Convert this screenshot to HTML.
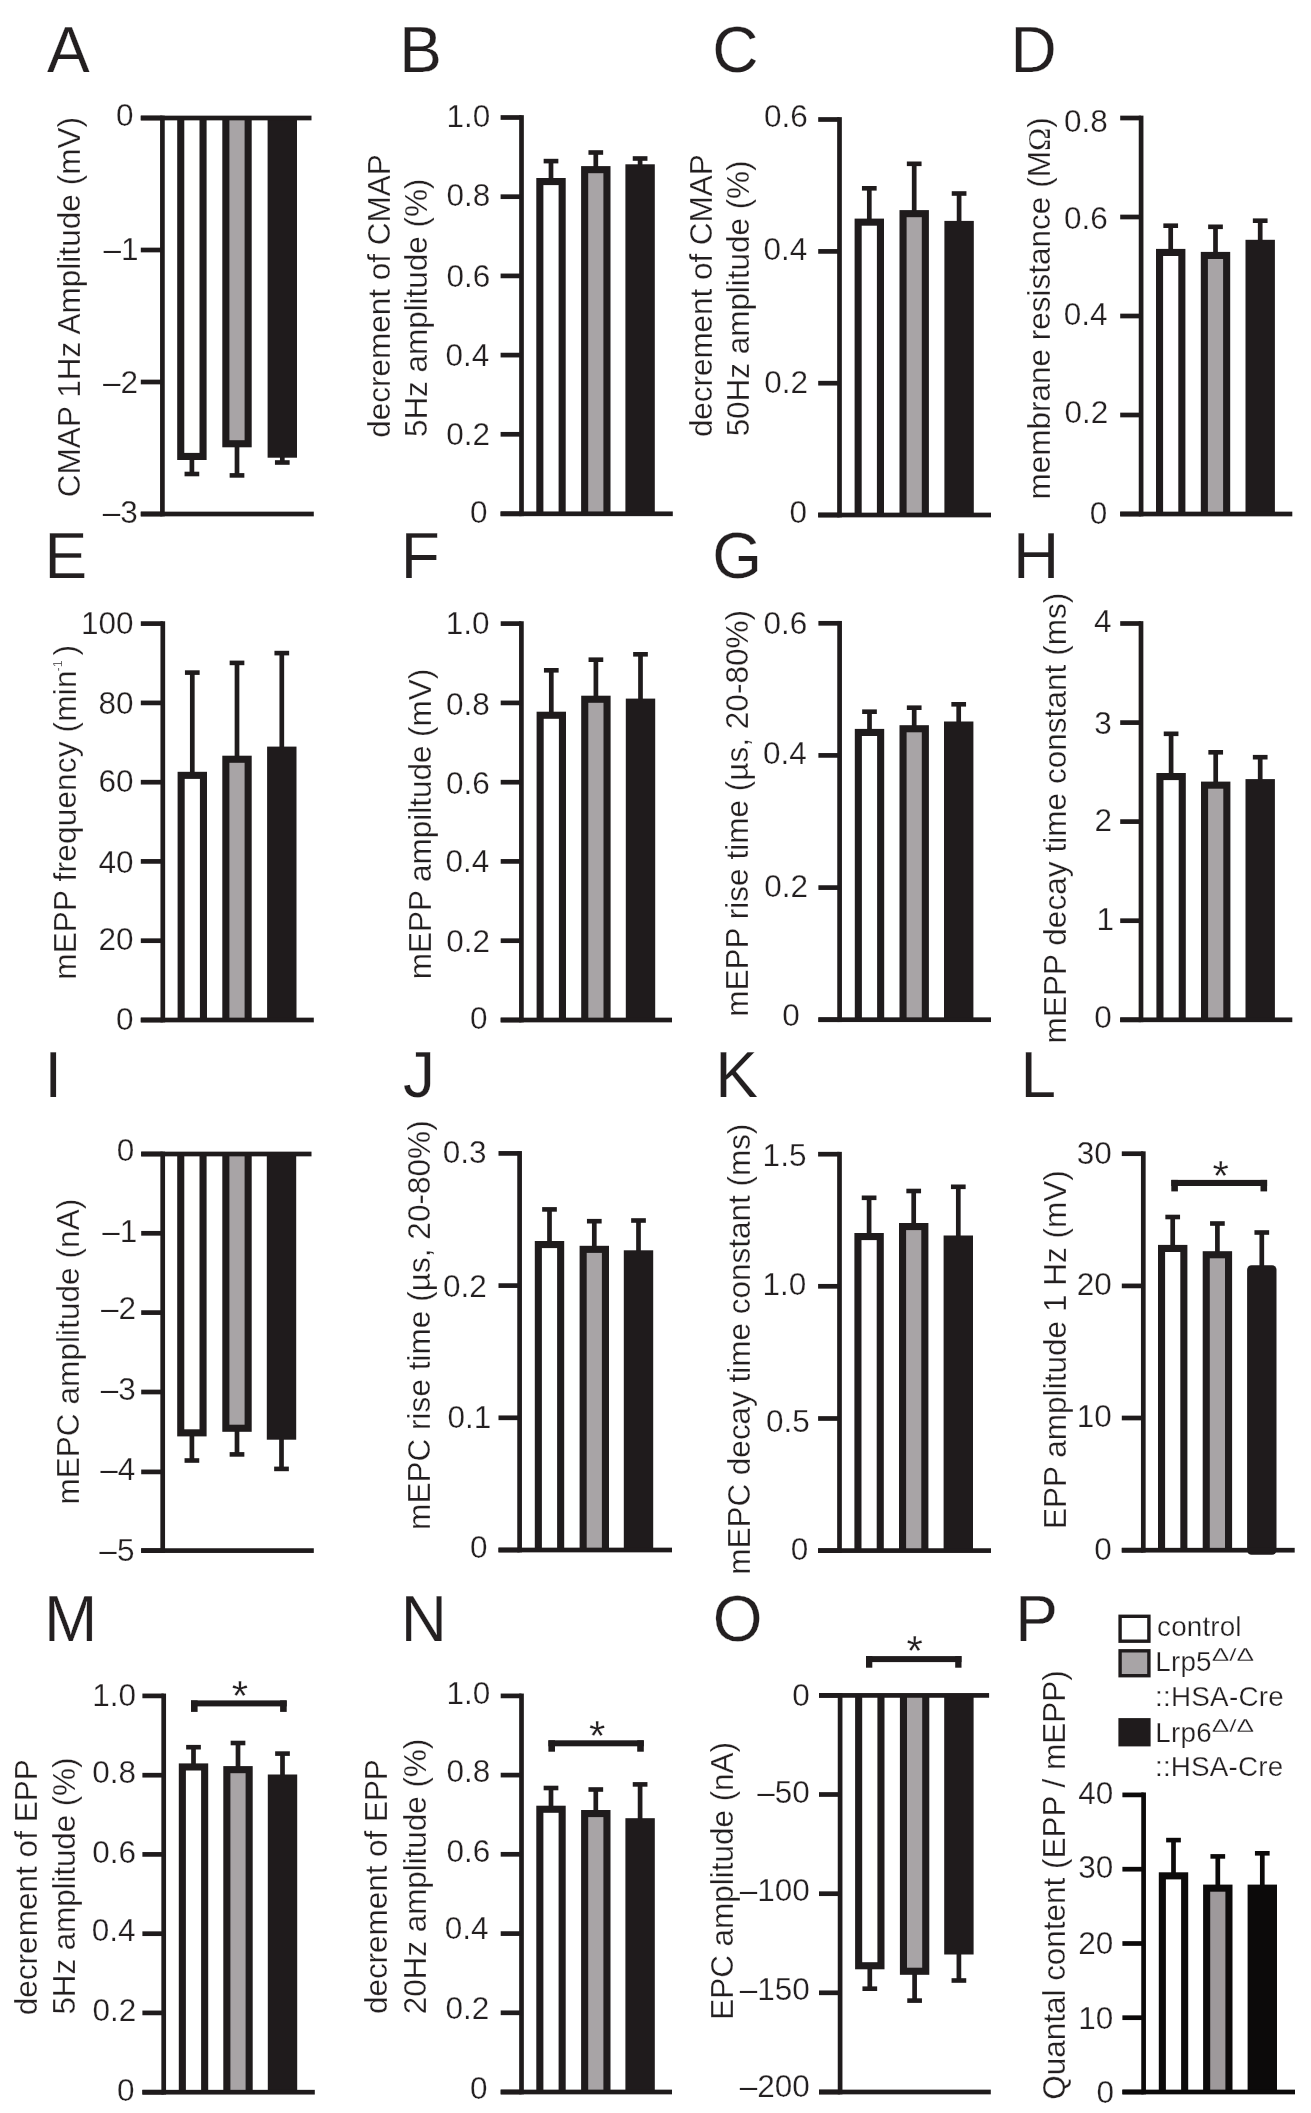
<!DOCTYPE html>
<html><head><meta charset="utf-8"><title>Figure</title>
<style>
html,body{margin:0;padding:0;background:#fff;}
svg{display:block;will-change:transform;}
text{font-family:"Liberation Sans",sans-serif;fill:#231f20;stroke:#fff;stroke-width:0.25px;}
</style></head><body>
<svg width="1311" height="2113" viewBox="0 0 1311 2113">
<rect width="1311" height="2113" fill="#ffffff"/>
<rect x="189.55" y="459.00" width="4.70" height="15.00" fill="#1f1b1c"/>
<rect x="184.55" y="471.70" width="14.70" height="4.60" fill="#1f1b1c"/>
<rect x="177.20" y="118.00" width="29.40" height="342.00" fill="#1f1b1c"/>
<rect x="184.30" y="118.00" width="15.20" height="334.90" fill="#ffffff"/>
<rect x="234.65" y="446.30" width="4.70" height="29.10" fill="#1f1b1c"/>
<rect x="229.65" y="473.10" width="14.70" height="4.60" fill="#1f1b1c"/>
<rect x="222.30" y="118.00" width="29.40" height="329.30" fill="#1f1b1c"/>
<rect x="229.40" y="118.00" width="15.20" height="322.20" fill="#a8a4a6"/>
<rect x="279.95" y="456.70" width="4.70" height="5.80" fill="#1f1b1c"/>
<rect x="274.95" y="460.20" width="14.70" height="4.60" fill="#1f1b1c"/>
<rect x="267.60" y="118.00" width="29.40" height="339.70" fill="#1f1b1c"/>
<rect x="160.05" y="115.65" width="4.70" height="400.70" fill="#1f1b1c"/>
<rect x="140.80" y="115.65" width="21.60" height="4.70" fill="#1f1b1c"/>
<text x="133.53" y="125.84" font-size="31.5" text-anchor="end">0</text>
<rect x="140.80" y="247.65" width="21.60" height="4.70" fill="#1f1b1c"/>
<text x="138.61" y="260.15" font-size="31.5" text-anchor="end">–1</text>
<rect x="140.80" y="379.65" width="21.60" height="4.70" fill="#1f1b1c"/>
<text x="138.08" y="393.05" font-size="31.5" text-anchor="end">–2</text>
<rect x="140.80" y="511.65" width="21.60" height="4.70" fill="#1f1b1c"/>
<text x="137.88" y="522.94" font-size="31.5" text-anchor="end">–3</text>
<rect x="140.80" y="511.65" width="173.00" height="4.70" fill="#1f1b1c"/>
<rect x="140.80" y="115.65" width="170.70" height="4.70" fill="#1f1b1c"/>
<text x="47.08" y="71.80" font-size="64" text-anchor="start">A</text>
<text x="79.80" y="497.20" font-size="31.5" text-anchor="start" transform="rotate(-90 79.80 497.20)" textLength="380.25" lengthAdjust="spacing">CMAP 1Hz Amplitude (mV)</text>
<rect x="548.65" y="161.10" width="4.70" height="17.90" fill="#1f1b1c"/>
<rect x="543.65" y="158.80" width="14.70" height="4.60" fill="#1f1b1c"/>
<rect x="536.30" y="178.00" width="29.40" height="335.80" fill="#1f1b1c"/>
<rect x="543.40" y="185.10" width="15.20" height="328.70" fill="#ffffff"/>
<rect x="593.45" y="152.50" width="4.70" height="14.60" fill="#1f1b1c"/>
<rect x="588.45" y="150.20" width="14.70" height="4.60" fill="#1f1b1c"/>
<rect x="581.10" y="166.10" width="29.40" height="347.70" fill="#1f1b1c"/>
<rect x="588.20" y="173.20" width="15.20" height="340.60" fill="#a8a4a6"/>
<rect x="637.75" y="158.50" width="4.70" height="6.80" fill="#1f1b1c"/>
<rect x="632.75" y="156.20" width="14.70" height="4.60" fill="#1f1b1c"/>
<rect x="625.40" y="164.30" width="29.40" height="349.50" fill="#1f1b1c"/>
<rect x="519.15" y="115.15" width="4.70" height="401.00" fill="#1f1b1c"/>
<rect x="500.60" y="115.15" width="20.90" height="4.70" fill="#1f1b1c"/>
<text x="490.23" y="126.64" font-size="31.5" text-anchor="end">1.0</text>
<rect x="500.60" y="194.35" width="20.90" height="4.70" fill="#1f1b1c"/>
<text x="490.37" y="206.34" font-size="31.5" text-anchor="end">0.8</text>
<rect x="500.60" y="273.55" width="20.90" height="4.70" fill="#1f1b1c"/>
<text x="490.38" y="287.44" font-size="31.5" text-anchor="end">0.6</text>
<rect x="500.60" y="352.75" width="20.90" height="4.70" fill="#1f1b1c"/>
<text x="489.32" y="365.64" font-size="31.5" text-anchor="end">0.4</text>
<rect x="500.60" y="431.95" width="20.90" height="4.70" fill="#1f1b1c"/>
<text x="489.98" y="444.74" font-size="31.5" text-anchor="end">0.2</text>
<rect x="500.60" y="511.45" width="20.90" height="4.70" fill="#1f1b1c"/>
<text x="487.63" y="523.14" font-size="31.5" text-anchor="end">0</text>
<rect x="500.60" y="511.45" width="172.20" height="4.70" fill="#1f1b1c"/>
<text x="399.35" y="71.80" font-size="64" text-anchor="start">B</text>
<text x="390.20" y="437.72" font-size="31.5" text-anchor="start" transform="rotate(-90 390.20 437.72)" textLength="283.38" lengthAdjust="spacing">decrement of CMAP</text>
<text x="427.10" y="437.06" font-size="31.5" text-anchor="start" transform="rotate(-90 427.10 437.06)" textLength="258.41" lengthAdjust="spacing">5Hz amplitude (%)</text>
<rect x="866.95" y="188.30" width="4.70" height="31.30" fill="#1f1b1c"/>
<rect x="861.95" y="186.00" width="14.70" height="4.60" fill="#1f1b1c"/>
<rect x="854.60" y="218.60" width="29.40" height="296.40" fill="#1f1b1c"/>
<rect x="861.70" y="225.70" width="15.20" height="289.30" fill="#ffffff"/>
<rect x="911.85" y="163.80" width="4.70" height="47.30" fill="#1f1b1c"/>
<rect x="906.85" y="161.50" width="14.70" height="4.60" fill="#1f1b1c"/>
<rect x="899.50" y="210.10" width="29.40" height="304.90" fill="#1f1b1c"/>
<rect x="906.60" y="217.20" width="15.20" height="297.80" fill="#a8a4a6"/>
<rect x="956.75" y="193.50" width="4.70" height="28.40" fill="#1f1b1c"/>
<rect x="951.75" y="191.20" width="14.70" height="4.60" fill="#1f1b1c"/>
<rect x="944.40" y="220.90" width="29.40" height="294.10" fill="#1f1b1c"/>
<rect x="837.15" y="117.15" width="4.70" height="400.20" fill="#1f1b1c"/>
<rect x="818.20" y="117.15" width="21.30" height="4.70" fill="#1f1b1c"/>
<text x="807.78" y="126.64" font-size="31.5" text-anchor="end">0.6</text>
<rect x="818.20" y="249.05" width="21.30" height="4.70" fill="#1f1b1c"/>
<text x="807.32" y="260.14" font-size="31.5" text-anchor="end">0.4</text>
<rect x="818.20" y="380.85" width="21.30" height="4.70" fill="#1f1b1c"/>
<text x="807.98" y="392.84" font-size="31.5" text-anchor="end">0.2</text>
<rect x="818.20" y="512.65" width="21.30" height="4.70" fill="#1f1b1c"/>
<text x="807.03" y="522.54" font-size="31.5" text-anchor="end">0</text>
<rect x="818.20" y="512.65" width="172.80" height="4.70" fill="#1f1b1c"/>
<text x="712.25" y="71.80" font-size="64" text-anchor="start">C</text>
<text x="711.80" y="437.12" font-size="31.5" text-anchor="start" transform="rotate(-90 711.80 437.12)" textLength="282.78" lengthAdjust="spacing">decrement of CMAP</text>
<text x="748.70" y="436.36" font-size="31.5" text-anchor="start" transform="rotate(-90 748.70 436.36)" textLength="275.91" lengthAdjust="spacing">50Hz amplitude (%)</text>
<rect x="1168.35" y="225.70" width="4.70" height="24.20" fill="#1f1b1c"/>
<rect x="1163.35" y="223.40" width="14.70" height="4.60" fill="#1f1b1c"/>
<rect x="1156.00" y="248.90" width="29.40" height="265.10" fill="#1f1b1c"/>
<rect x="1163.10" y="256.00" width="15.20" height="258.00" fill="#ffffff"/>
<rect x="1213.15" y="226.80" width="4.70" height="26.10" fill="#1f1b1c"/>
<rect x="1208.15" y="224.50" width="14.70" height="4.60" fill="#1f1b1c"/>
<rect x="1200.80" y="251.90" width="29.40" height="262.10" fill="#1f1b1c"/>
<rect x="1207.90" y="259.00" width="15.20" height="255.00" fill="#a8a4a6"/>
<rect x="1257.85" y="220.70" width="4.70" height="20.10" fill="#1f1b1c"/>
<rect x="1252.85" y="218.40" width="14.70" height="4.60" fill="#1f1b1c"/>
<rect x="1245.50" y="239.80" width="29.40" height="274.20" fill="#1f1b1c"/>
<rect x="1138.75" y="115.65" width="4.70" height="400.70" fill="#1f1b1c"/>
<rect x="1120.20" y="115.65" width="20.90" height="4.70" fill="#1f1b1c"/>
<text x="1107.87" y="132.04" font-size="31.5" text-anchor="end">0.8</text>
<rect x="1120.20" y="214.65" width="20.90" height="4.70" fill="#1f1b1c"/>
<text x="1107.88" y="229.24" font-size="31.5" text-anchor="end">0.6</text>
<rect x="1120.20" y="313.65" width="20.90" height="4.70" fill="#1f1b1c"/>
<text x="1107.52" y="324.74" font-size="31.5" text-anchor="end">0.4</text>
<rect x="1120.20" y="412.65" width="20.90" height="4.70" fill="#1f1b1c"/>
<text x="1108.18" y="423.34" font-size="31.5" text-anchor="end">0.2</text>
<rect x="1120.20" y="511.65" width="20.90" height="4.70" fill="#1f1b1c"/>
<text x="1107.23" y="524.44" font-size="31.5" text-anchor="end">0</text>
<rect x="1120.20" y="511.65" width="172.10" height="4.70" fill="#1f1b1c"/>
<text x="1010.55" y="71.80" font-size="64" text-anchor="start">D</text>
<text x="1049.60" y="499.49" font-size="31.5" text-anchor="start" transform="rotate(-90 1049.60 499.49)">membrane resistance (M<tspan font-family="Liberation Serif, serif">Ω</tspan>)</text>
<rect x="189.95" y="672.60" width="4.70" height="100.20" fill="#1f1b1c"/>
<rect x="184.95" y="670.30" width="14.70" height="4.60" fill="#1f1b1c"/>
<rect x="177.60" y="771.80" width="29.40" height="248.20" fill="#1f1b1c"/>
<rect x="184.70" y="778.90" width="15.20" height="241.10" fill="#ffffff"/>
<rect x="234.65" y="662.90" width="4.70" height="93.80" fill="#1f1b1c"/>
<rect x="229.65" y="660.60" width="14.70" height="4.60" fill="#1f1b1c"/>
<rect x="222.30" y="755.70" width="29.40" height="264.30" fill="#1f1b1c"/>
<rect x="229.40" y="762.80" width="15.20" height="257.20" fill="#a8a4a6"/>
<rect x="279.45" y="653.10" width="4.70" height="94.50" fill="#1f1b1c"/>
<rect x="274.45" y="650.80" width="14.70" height="4.60" fill="#1f1b1c"/>
<rect x="267.10" y="746.60" width="29.40" height="273.40" fill="#1f1b1c"/>
<rect x="160.45" y="621.25" width="4.70" height="401.10" fill="#1f1b1c"/>
<rect x="140.80" y="621.25" width="22.00" height="4.70" fill="#1f1b1c"/>
<text x="133.63" y="633.54" font-size="31.5" text-anchor="end">100</text>
<rect x="140.80" y="700.55" width="22.00" height="4.70" fill="#1f1b1c"/>
<text x="133.63" y="713.94" font-size="31.5" text-anchor="end">80</text>
<rect x="140.80" y="779.85" width="22.00" height="4.70" fill="#1f1b1c"/>
<text x="133.63" y="792.44" font-size="31.5" text-anchor="end">60</text>
<rect x="140.80" y="859.05" width="22.00" height="4.70" fill="#1f1b1c"/>
<text x="133.63" y="872.54" font-size="31.5" text-anchor="end">40</text>
<rect x="140.80" y="938.35" width="22.00" height="4.70" fill="#1f1b1c"/>
<text x="133.63" y="949.74" font-size="31.5" text-anchor="end">20</text>
<rect x="140.80" y="1017.65" width="22.00" height="4.70" fill="#1f1b1c"/>
<text x="133.63" y="1030.04" font-size="31.5" text-anchor="end">0</text>
<rect x="140.80" y="1017.65" width="173.00" height="4.70" fill="#1f1b1c"/>
<text x="44.45" y="578.00" font-size="64" text-anchor="start">E</text>
<text x="75.70" y="979.79" font-size="31.5" text-anchor="start" transform="rotate(-90 75.70 979.79)" textLength="309.24" lengthAdjust="spacing">mEPP frequency (min</text>
<text x="61.80" y="671.46" font-size="12.5" text-anchor="start" transform="rotate(-90 61.80 671.46)">-1</text>
<text x="75.70" y="655.58" font-size="31.5" text-anchor="start" transform="rotate(-90 75.70 655.58)">)</text>
<rect x="548.95" y="670.30" width="4.70" height="42.40" fill="#1f1b1c"/>
<rect x="543.95" y="668.00" width="14.70" height="4.60" fill="#1f1b1c"/>
<rect x="536.60" y="711.70" width="29.40" height="308.30" fill="#1f1b1c"/>
<rect x="543.70" y="718.80" width="15.20" height="301.20" fill="#ffffff"/>
<rect x="593.55" y="659.70" width="4.70" height="37.00" fill="#1f1b1c"/>
<rect x="588.55" y="657.40" width="14.70" height="4.60" fill="#1f1b1c"/>
<rect x="581.20" y="695.70" width="29.40" height="324.30" fill="#1f1b1c"/>
<rect x="588.30" y="702.80" width="15.20" height="317.20" fill="#a8a4a6"/>
<rect x="638.15" y="654.30" width="4.70" height="45.30" fill="#1f1b1c"/>
<rect x="633.15" y="652.00" width="14.70" height="4.60" fill="#1f1b1c"/>
<rect x="625.80" y="698.60" width="29.40" height="321.40" fill="#1f1b1c"/>
<rect x="519.05" y="621.25" width="4.70" height="401.10" fill="#1f1b1c"/>
<rect x="500.70" y="621.25" width="20.70" height="4.70" fill="#1f1b1c"/>
<text x="489.63" y="633.54" font-size="31.5" text-anchor="end">1.0</text>
<rect x="500.70" y="700.55" width="20.70" height="4.70" fill="#1f1b1c"/>
<text x="489.77" y="714.64" font-size="31.5" text-anchor="end">0.8</text>
<rect x="500.70" y="779.85" width="20.70" height="4.70" fill="#1f1b1c"/>
<text x="489.78" y="794.34" font-size="31.5" text-anchor="end">0.6</text>
<rect x="500.70" y="859.05" width="20.70" height="4.70" fill="#1f1b1c"/>
<text x="489.32" y="871.94" font-size="31.5" text-anchor="end">0.4</text>
<rect x="500.70" y="938.35" width="20.70" height="4.70" fill="#1f1b1c"/>
<text x="489.98" y="952.34" font-size="31.5" text-anchor="end">0.2</text>
<rect x="500.70" y="1017.65" width="20.70" height="4.70" fill="#1f1b1c"/>
<text x="487.63" y="1028.84" font-size="31.5" text-anchor="end">0</text>
<rect x="500.70" y="1017.65" width="171.30" height="4.70" fill="#1f1b1c"/>
<text x="400.75" y="578.00" font-size="64" text-anchor="start">F</text>
<text x="430.90" y="979.19" font-size="31.5" text-anchor="start" transform="rotate(-90 430.90 979.19)" textLength="310.45" lengthAdjust="spacing">mEPP ampiltude (mV)</text>
<rect x="867.15" y="711.70" width="4.70" height="18.20" fill="#1f1b1c"/>
<rect x="862.15" y="709.40" width="14.70" height="4.60" fill="#1f1b1c"/>
<rect x="854.80" y="728.90" width="29.40" height="290.80" fill="#1f1b1c"/>
<rect x="861.90" y="736.00" width="15.20" height="283.70" fill="#ffffff"/>
<rect x="911.85" y="707.70" width="4.70" height="18.50" fill="#1f1b1c"/>
<rect x="906.85" y="705.40" width="14.70" height="4.60" fill="#1f1b1c"/>
<rect x="899.50" y="725.20" width="29.40" height="294.50" fill="#1f1b1c"/>
<rect x="906.60" y="732.30" width="15.20" height="287.40" fill="#a8a4a6"/>
<rect x="956.35" y="704.30" width="4.70" height="18.20" fill="#1f1b1c"/>
<rect x="951.35" y="702.00" width="14.70" height="4.60" fill="#1f1b1c"/>
<rect x="944.00" y="721.50" width="29.40" height="298.20" fill="#1f1b1c"/>
<rect x="837.25" y="620.95" width="4.70" height="401.10" fill="#1f1b1c"/>
<rect x="818.40" y="620.95" width="21.20" height="4.70" fill="#1f1b1c"/>
<text x="807.18" y="633.74" font-size="31.5" text-anchor="end">0.6</text>
<rect x="818.40" y="753.05" width="21.20" height="4.70" fill="#1f1b1c"/>
<text x="806.72" y="764.04" font-size="31.5" text-anchor="end">0.4</text>
<rect x="818.40" y="885.25" width="21.20" height="4.70" fill="#1f1b1c"/>
<text x="807.98" y="897.14" font-size="31.5" text-anchor="end">0.2</text>
<rect x="818.40" y="1017.35" width="21.20" height="4.70" fill="#1f1b1c"/>
<text x="799.83" y="1025.54" font-size="31.5" text-anchor="end">0</text>
<rect x="818.40" y="1017.35" width="172.60" height="4.70" fill="#1f1b1c"/>
<text x="712.28" y="578.00" font-size="64" text-anchor="start">G</text>
<text x="748.40" y="1016.79" font-size="31.5" text-anchor="start" transform="rotate(-90 748.40 1016.79)" textLength="406.85" lengthAdjust="spacing">mEPP rise time (µs, 20-80%)</text>
<rect x="1168.75" y="733.80" width="4.70" height="40.20" fill="#1f1b1c"/>
<rect x="1163.75" y="731.50" width="14.70" height="4.60" fill="#1f1b1c"/>
<rect x="1156.40" y="773.00" width="29.40" height="246.80" fill="#1f1b1c"/>
<rect x="1163.50" y="780.10" width="15.20" height="239.70" fill="#ffffff"/>
<rect x="1213.35" y="752.30" width="4.70" height="30.30" fill="#1f1b1c"/>
<rect x="1208.35" y="750.00" width="14.70" height="4.60" fill="#1f1b1c"/>
<rect x="1201.00" y="781.60" width="29.40" height="238.20" fill="#1f1b1c"/>
<rect x="1208.10" y="788.70" width="15.20" height="231.10" fill="#a8a4a6"/>
<rect x="1257.85" y="757.20" width="4.70" height="22.90" fill="#1f1b1c"/>
<rect x="1252.85" y="754.90" width="14.70" height="4.60" fill="#1f1b1c"/>
<rect x="1245.50" y="779.10" width="29.40" height="240.70" fill="#1f1b1c"/>
<rect x="1138.65" y="621.15" width="4.70" height="401.00" fill="#1f1b1c"/>
<rect x="1120.20" y="621.15" width="20.80" height="4.70" fill="#1f1b1c"/>
<text x="1111.42" y="632.45" font-size="31.5" text-anchor="end">4</text>
<rect x="1120.20" y="720.25" width="20.80" height="4.70" fill="#1f1b1c"/>
<text x="1111.88" y="733.94" font-size="31.5" text-anchor="end">3</text>
<rect x="1120.20" y="819.25" width="20.80" height="4.70" fill="#1f1b1c"/>
<text x="1112.08" y="831.35" font-size="31.5" text-anchor="end">2</text>
<rect x="1120.20" y="918.35" width="20.80" height="4.70" fill="#1f1b1c"/>
<text x="1114.11" y="929.95" font-size="31.5" text-anchor="end">1</text>
<rect x="1120.20" y="1017.45" width="20.80" height="4.70" fill="#1f1b1c"/>
<text x="1111.73" y="1028.14" font-size="31.5" text-anchor="end">0</text>
<rect x="1120.20" y="1017.45" width="172.10" height="4.70" fill="#1f1b1c"/>
<text x="1013.05" y="578.00" font-size="64" text-anchor="start">H</text>
<text x="1066.40" y="1043.39" font-size="31.5" text-anchor="start" transform="rotate(-90 1066.40 1043.39)" textLength="450.65" lengthAdjust="spacing">mEPP decay time constant (ms)</text>
<rect x="189.55" y="1435.40" width="4.70" height="25.10" fill="#1f1b1c"/>
<rect x="184.55" y="1458.20" width="14.70" height="4.60" fill="#1f1b1c"/>
<rect x="177.20" y="1154.00" width="29.40" height="282.40" fill="#1f1b1c"/>
<rect x="184.30" y="1154.00" width="15.20" height="275.30" fill="#ffffff"/>
<rect x="234.65" y="1430.80" width="4.70" height="23.60" fill="#1f1b1c"/>
<rect x="229.65" y="1452.10" width="14.70" height="4.60" fill="#1f1b1c"/>
<rect x="222.30" y="1154.00" width="29.40" height="277.80" fill="#1f1b1c"/>
<rect x="229.40" y="1154.00" width="15.20" height="270.70" fill="#a8a4a6"/>
<rect x="279.15" y="1438.70" width="4.70" height="30.20" fill="#1f1b1c"/>
<rect x="274.15" y="1466.60" width="14.70" height="4.60" fill="#1f1b1c"/>
<rect x="266.80" y="1154.00" width="29.40" height="285.70" fill="#1f1b1c"/>
<rect x="160.35" y="1151.65" width="4.70" height="401.30" fill="#1f1b1c"/>
<rect x="141.20" y="1151.65" width="21.50" height="4.70" fill="#1f1b1c"/>
<text x="134.33" y="1160.94" font-size="31.5" text-anchor="end">0</text>
<rect x="141.20" y="1230.95" width="21.50" height="4.70" fill="#1f1b1c"/>
<text x="137.31" y="1242.35" font-size="31.5" text-anchor="end">–1</text>
<rect x="141.20" y="1310.25" width="21.50" height="4.70" fill="#1f1b1c"/>
<text x="135.98" y="1319.45" font-size="31.5" text-anchor="end">–2</text>
<rect x="141.20" y="1389.65" width="21.50" height="4.70" fill="#1f1b1c"/>
<text x="135.78" y="1399.94" font-size="31.5" text-anchor="end">–3</text>
<rect x="141.20" y="1469.55" width="21.50" height="4.70" fill="#1f1b1c"/>
<text x="135.32" y="1480.05" font-size="31.5" text-anchor="end">–4</text>
<rect x="141.20" y="1548.25" width="21.50" height="4.70" fill="#1f1b1c"/>
<text x="134.42" y="1560.74" font-size="31.5" text-anchor="end">–5</text>
<rect x="141.20" y="1548.25" width="172.60" height="4.70" fill="#1f1b1c"/>
<rect x="141.20" y="1151.65" width="170.30" height="4.70" fill="#1f1b1c"/>
<text x="44.29" y="1097.00" font-size="64" text-anchor="start">I</text>
<text x="78.60" y="1504.59" font-size="31.5" text-anchor="start" transform="rotate(-90 78.60 1504.59)" textLength="305.85" lengthAdjust="spacing">mEPC amplitude (nA)</text>
<rect x="547.15" y="1209.40" width="4.70" height="32.60" fill="#1f1b1c"/>
<rect x="542.15" y="1207.10" width="14.70" height="4.60" fill="#1f1b1c"/>
<rect x="534.80" y="1241.00" width="29.40" height="309.00" fill="#1f1b1c"/>
<rect x="541.90" y="1248.10" width="15.20" height="301.90" fill="#ffffff"/>
<rect x="591.95" y="1221.20" width="4.70" height="25.60" fill="#1f1b1c"/>
<rect x="586.95" y="1218.90" width="14.70" height="4.60" fill="#1f1b1c"/>
<rect x="579.60" y="1245.80" width="29.40" height="304.20" fill="#1f1b1c"/>
<rect x="586.70" y="1252.90" width="15.20" height="297.10" fill="#a8a4a6"/>
<rect x="636.15" y="1220.50" width="4.70" height="30.80" fill="#1f1b1c"/>
<rect x="631.15" y="1218.20" width="14.70" height="4.60" fill="#1f1b1c"/>
<rect x="623.80" y="1250.30" width="29.40" height="299.70" fill="#1f1b1c"/>
<rect x="517.25" y="1151.05" width="4.70" height="401.30" fill="#1f1b1c"/>
<rect x="498.50" y="1151.05" width="21.10" height="4.70" fill="#1f1b1c"/>
<text x="486.48" y="1163.04" font-size="31.5" text-anchor="end">0.3</text>
<rect x="498.50" y="1283.25" width="21.10" height="4.70" fill="#1f1b1c"/>
<text x="486.68" y="1296.54" font-size="31.5" text-anchor="end">0.2</text>
<rect x="498.50" y="1415.45" width="21.10" height="4.70" fill="#1f1b1c"/>
<text x="491.31" y="1428.44" font-size="31.5" text-anchor="end">0.1</text>
<rect x="498.50" y="1547.65" width="21.10" height="4.70" fill="#1f1b1c"/>
<text x="487.63" y="1558.14" font-size="31.5" text-anchor="end">0</text>
<rect x="498.50" y="1547.65" width="173.50" height="4.70" fill="#1f1b1c"/>
<text x="403.00" y="1097.00" font-size="64" text-anchor="start">J</text>
<text x="430.30" y="1529.89" font-size="31.5" text-anchor="start" transform="rotate(-90 430.30 1529.89)" textLength="409.55" lengthAdjust="spacing">mEPC rise time (µs, 20-80%)</text>
<rect x="866.75" y="1197.80" width="4.70" height="36.20" fill="#1f1b1c"/>
<rect x="861.75" y="1195.50" width="14.70" height="4.60" fill="#1f1b1c"/>
<rect x="854.40" y="1233.00" width="29.40" height="317.60" fill="#1f1b1c"/>
<rect x="861.50" y="1240.10" width="15.20" height="310.50" fill="#ffffff"/>
<rect x="911.35" y="1191.00" width="4.70" height="33.00" fill="#1f1b1c"/>
<rect x="906.35" y="1188.70" width="14.70" height="4.60" fill="#1f1b1c"/>
<rect x="899.00" y="1223.00" width="29.40" height="327.60" fill="#1f1b1c"/>
<rect x="906.10" y="1230.10" width="15.20" height="320.50" fill="#a8a4a6"/>
<rect x="955.95" y="1186.80" width="4.70" height="49.70" fill="#1f1b1c"/>
<rect x="950.95" y="1184.50" width="14.70" height="4.60" fill="#1f1b1c"/>
<rect x="943.60" y="1235.50" width="29.40" height="315.10" fill="#1f1b1c"/>
<rect x="837.15" y="1151.85" width="4.70" height="401.10" fill="#1f1b1c"/>
<rect x="818.10" y="1151.85" width="21.40" height="4.70" fill="#1f1b1c"/>
<text x="806.42" y="1165.64" font-size="31.5" text-anchor="end">1.5</text>
<rect x="818.10" y="1283.95" width="21.40" height="4.70" fill="#1f1b1c"/>
<text x="806.33" y="1295.24" font-size="31.5" text-anchor="end">1.0</text>
<rect x="818.10" y="1416.15" width="21.40" height="4.70" fill="#1f1b1c"/>
<text x="809.72" y="1431.84" font-size="31.5" text-anchor="end">0.5</text>
<rect x="818.10" y="1548.25" width="21.40" height="4.70" fill="#1f1b1c"/>
<text x="808.33" y="1560.14" font-size="31.5" text-anchor="end">0</text>
<rect x="818.10" y="1548.25" width="172.90" height="4.70" fill="#1f1b1c"/>
<text x="715.25" y="1097.00" font-size="64" text-anchor="start">K</text>
<text x="750.00" y="1574.79" font-size="31.5" text-anchor="start" transform="rotate(-90 750.00 1574.79)" textLength="451.15" lengthAdjust="spacing">mEPC decay time constant (ms)</text>
<rect x="1170.35" y="1217.00" width="4.70" height="28.90" fill="#1f1b1c"/>
<rect x="1165.35" y="1214.70" width="14.70" height="4.60" fill="#1f1b1c"/>
<rect x="1158.00" y="1244.90" width="29.40" height="305.30" fill="#1f1b1c"/>
<rect x="1165.10" y="1252.00" width="15.20" height="298.20" fill="#ffffff"/>
<rect x="1215.05" y="1223.50" width="4.70" height="28.70" fill="#1f1b1c"/>
<rect x="1210.05" y="1221.20" width="14.70" height="4.60" fill="#1f1b1c"/>
<rect x="1202.70" y="1251.20" width="29.40" height="299.00" fill="#1f1b1c"/>
<rect x="1209.80" y="1258.30" width="15.20" height="291.90" fill="#a8a4a6"/>
<rect x="1259.45" y="1232.50" width="4.70" height="33.70" fill="#1f1b1c"/>
<rect x="1254.45" y="1230.20" width="14.70" height="4.60" fill="#1f1b1c"/>
<rect x="1247.10" y="1265.20" width="29.40" height="289.50" fill="#1f1b1c" rx="4.5" ry="4.5"/>
<rect x="1140.95" y="1151.35" width="4.70" height="401.20" fill="#1f1b1c"/>
<rect x="1121.80" y="1151.35" width="21.50" height="4.70" fill="#1f1b1c"/>
<text x="1111.73" y="1163.84" font-size="31.5" text-anchor="end">30</text>
<rect x="1121.80" y="1283.55" width="21.50" height="4.70" fill="#1f1b1c"/>
<text x="1111.73" y="1294.54" font-size="31.5" text-anchor="end">20</text>
<rect x="1121.80" y="1415.65" width="21.50" height="4.70" fill="#1f1b1c"/>
<text x="1111.73" y="1426.54" font-size="31.5" text-anchor="end">10</text>
<rect x="1121.80" y="1547.85" width="21.50" height="4.70" fill="#1f1b1c"/>
<text x="1111.73" y="1560.04" font-size="31.5" text-anchor="end">0</text>
<rect x="1121.80" y="1547.85" width="172.90" height="4.70" fill="#1f1b1c"/>
<text x="1020.45" y="1097.00" font-size="64" text-anchor="start">L</text>
<text x="1066.20" y="1529.08" font-size="31.5" text-anchor="start" transform="rotate(-90 1066.20 1529.08)" textLength="358.94" lengthAdjust="spacing">EPP amplitude 1 Hz (mV)</text>
<rect x="1171.30" y="1179.90" width="95.80" height="6.10" fill="#1f1b1c"/>
<rect x="1171.30" y="1179.90" width="6.60" height="11.50" fill="#1f1b1c"/>
<rect x="1260.50" y="1179.90" width="6.60" height="11.50" fill="#1f1b1c"/>
<text x="1212.42" y="1189.92" font-size="42" text-anchor="start">*</text>
<rect x="191.15" y="1747.20" width="4.70" height="17.20" fill="#1f1b1c"/>
<rect x="186.15" y="1744.90" width="14.70" height="4.60" fill="#1f1b1c"/>
<rect x="178.80" y="1763.40" width="29.40" height="328.80" fill="#1f1b1c"/>
<rect x="185.90" y="1770.50" width="15.20" height="321.70" fill="#ffffff"/>
<rect x="235.65" y="1743.00" width="4.70" height="24.10" fill="#1f1b1c"/>
<rect x="230.65" y="1740.70" width="14.70" height="4.60" fill="#1f1b1c"/>
<rect x="223.30" y="1766.10" width="29.40" height="326.10" fill="#1f1b1c"/>
<rect x="230.40" y="1773.20" width="15.20" height="319.00" fill="#a8a4a6"/>
<rect x="280.15" y="1753.60" width="4.70" height="21.90" fill="#1f1b1c"/>
<rect x="275.15" y="1751.30" width="14.70" height="4.60" fill="#1f1b1c"/>
<rect x="267.80" y="1774.50" width="29.40" height="317.70" fill="#1f1b1c"/>
<rect x="161.35" y="1693.55" width="4.70" height="401.00" fill="#1f1b1c"/>
<rect x="142.40" y="1693.55" width="21.30" height="4.70" fill="#1f1b1c"/>
<text x="135.93" y="1705.54" font-size="31.5" text-anchor="end">1.0</text>
<rect x="142.40" y="1772.85" width="21.30" height="4.70" fill="#1f1b1c"/>
<text x="136.07" y="1783.34" font-size="31.5" text-anchor="end">0.8</text>
<rect x="142.40" y="1852.05" width="21.30" height="4.70" fill="#1f1b1c"/>
<text x="136.08" y="1863.04" font-size="31.5" text-anchor="end">0.6</text>
<rect x="142.40" y="1931.35" width="21.30" height="4.70" fill="#1f1b1c"/>
<text x="135.62" y="1940.54" font-size="31.5" text-anchor="end">0.4</text>
<rect x="142.40" y="2010.55" width="21.30" height="4.70" fill="#1f1b1c"/>
<text x="136.28" y="2020.94" font-size="31.5" text-anchor="end">0.2</text>
<rect x="142.40" y="2089.85" width="21.30" height="4.70" fill="#1f1b1c"/>
<text x="134.63" y="2100.64" font-size="31.5" text-anchor="end">0</text>
<rect x="142.40" y="2089.85" width="172.40" height="4.70" fill="#1f1b1c"/>
<text x="43.95" y="1641.00" font-size="64" text-anchor="start">M</text>
<text x="37.40" y="2015.32" font-size="31.5" text-anchor="start" transform="rotate(-90 37.40 2015.32)" textLength="256.18" lengthAdjust="spacing">decrement of EPP</text>
<text x="75.30" y="2014.56" font-size="31.5" text-anchor="start" transform="rotate(-90 75.30 2014.56)" textLength="257.01" lengthAdjust="spacing">5Hz amplitude (%)</text>
<rect x="191.00" y="1700.40" width="95.70" height="6.00" fill="#1f1b1c"/>
<rect x="191.00" y="1700.40" width="6.60" height="11.50" fill="#1f1b1c"/>
<rect x="280.10" y="1700.40" width="6.60" height="11.50" fill="#1f1b1c"/>
<text x="231.82" y="1710.02" font-size="42" text-anchor="start">*</text>
<rect x="548.65" y="1788.00" width="4.70" height="18.70" fill="#1f1b1c"/>
<rect x="543.65" y="1785.70" width="14.70" height="4.60" fill="#1f1b1c"/>
<rect x="536.30" y="1805.70" width="29.40" height="286.30" fill="#1f1b1c"/>
<rect x="543.40" y="1812.80" width="15.20" height="279.20" fill="#ffffff"/>
<rect x="593.45" y="1789.50" width="4.70" height="21.50" fill="#1f1b1c"/>
<rect x="588.45" y="1787.20" width="14.70" height="4.60" fill="#1f1b1c"/>
<rect x="581.10" y="1810.00" width="29.40" height="282.00" fill="#1f1b1c"/>
<rect x="588.20" y="1817.10" width="15.20" height="274.90" fill="#a8a4a6"/>
<rect x="637.75" y="1784.40" width="4.70" height="34.80" fill="#1f1b1c"/>
<rect x="632.75" y="1782.10" width="14.70" height="4.60" fill="#1f1b1c"/>
<rect x="625.40" y="1818.20" width="29.40" height="273.80" fill="#1f1b1c"/>
<rect x="519.15" y="1693.55" width="4.70" height="400.80" fill="#1f1b1c"/>
<rect x="500.70" y="1693.55" width="20.80" height="4.70" fill="#1f1b1c"/>
<text x="490.23" y="1704.24" font-size="31.5" text-anchor="end">1.0</text>
<rect x="500.70" y="1772.75" width="20.80" height="4.70" fill="#1f1b1c"/>
<text x="490.37" y="1782.04" font-size="31.5" text-anchor="end">0.8</text>
<rect x="500.70" y="1851.95" width="20.80" height="4.70" fill="#1f1b1c"/>
<text x="490.38" y="1861.74" font-size="31.5" text-anchor="end">0.6</text>
<rect x="500.70" y="1931.25" width="20.80" height="4.70" fill="#1f1b1c"/>
<text x="488.62" y="1938.64" font-size="31.5" text-anchor="end">0.4</text>
<rect x="500.70" y="2010.45" width="20.80" height="4.70" fill="#1f1b1c"/>
<text x="489.28" y="2019.04" font-size="31.5" text-anchor="end">0.2</text>
<rect x="500.70" y="2089.65" width="20.80" height="4.70" fill="#1f1b1c"/>
<text x="487.63" y="2099.34" font-size="31.5" text-anchor="end">0</text>
<rect x="500.70" y="2089.65" width="171.30" height="4.70" fill="#1f1b1c"/>
<text x="400.75" y="1641.00" font-size="64" text-anchor="start">N</text>
<text x="387.50" y="2014.02" font-size="31.5" text-anchor="start" transform="rotate(-90 387.50 2014.02)" textLength="254.88" lengthAdjust="spacing">decrement of EPP</text>
<text x="425.80" y="2014.28" font-size="31.5" text-anchor="start" transform="rotate(-90 425.80 2014.28)" textLength="275.54" lengthAdjust="spacing">20Hz amplitude (%)</text>
<rect x="548.40" y="1740.30" width="95.40" height="6.00" fill="#1f1b1c"/>
<rect x="548.40" y="1740.30" width="6.60" height="11.40" fill="#1f1b1c"/>
<rect x="637.20" y="1740.30" width="6.60" height="11.40" fill="#1f1b1c"/>
<text x="589.02" y="1749.72" font-size="42" text-anchor="start">*</text>
<rect x="867.45" y="1968.30" width="4.70" height="20.40" fill="#1f1b1c"/>
<rect x="862.45" y="1986.40" width="14.70" height="4.60" fill="#1f1b1c"/>
<rect x="855.10" y="1695.40" width="29.40" height="273.90" fill="#1f1b1c"/>
<rect x="862.20" y="1695.40" width="15.20" height="266.80" fill="#ffffff"/>
<rect x="912.25" y="1973.80" width="4.70" height="26.80" fill="#1f1b1c"/>
<rect x="907.25" y="1998.30" width="14.70" height="4.60" fill="#1f1b1c"/>
<rect x="899.90" y="1695.40" width="29.40" height="279.40" fill="#1f1b1c"/>
<rect x="907.00" y="1695.40" width="15.20" height="272.30" fill="#a8a4a6"/>
<rect x="956.55" y="1953.50" width="4.70" height="27.00" fill="#1f1b1c"/>
<rect x="951.55" y="1978.20" width="14.70" height="4.60" fill="#1f1b1c"/>
<rect x="944.20" y="1695.40" width="29.40" height="259.10" fill="#1f1b1c"/>
<rect x="837.75" y="1693.05" width="4.70" height="401.30" fill="#1f1b1c"/>
<rect x="819.00" y="1693.05" width="21.10" height="4.70" fill="#1f1b1c"/>
<text x="809.83" y="1705.54" font-size="31.5" text-anchor="end">0</text>
<rect x="819.00" y="1792.15" width="21.10" height="4.70" fill="#1f1b1c"/>
<text x="809.83" y="1803.44" font-size="31.5" text-anchor="end">–50</text>
<rect x="819.00" y="1891.35" width="21.10" height="4.70" fill="#1f1b1c"/>
<text x="809.83" y="1901.04" font-size="31.5" text-anchor="end">–100</text>
<rect x="819.00" y="1990.45" width="21.10" height="4.70" fill="#1f1b1c"/>
<text x="809.83" y="1999.54" font-size="31.5" text-anchor="end">–150</text>
<rect x="819.00" y="2089.65" width="21.10" height="4.70" fill="#1f1b1c"/>
<text x="809.83" y="2097.44" font-size="31.5" text-anchor="end">–200</text>
<rect x="819.00" y="2089.65" width="171.80" height="4.70" fill="#1f1b1c"/>
<rect x="819.00" y="1693.05" width="170.10" height="4.70" fill="#1f1b1c"/>
<text x="712.77" y="1641.00" font-size="64" text-anchor="start">O</text>
<text x="733.40" y="2019.78" font-size="31.5" text-anchor="start" transform="rotate(-90 733.40 2019.78)" textLength="277.84" lengthAdjust="spacing">EPC amplitude (nA)</text>
<rect x="866.00" y="1656.10" width="95.50" height="6.00" fill="#1f1b1c"/>
<rect x="866.00" y="1656.10" width="6.30" height="11.60" fill="#1f1b1c"/>
<rect x="955.20" y="1656.10" width="6.30" height="11.60" fill="#1f1b1c"/>
<text x="906.52" y="1665.32" font-size="42" text-anchor="start">*</text>
<rect x="1171.15" y="1840.10" width="4.70" height="33.20" fill="#0c0a0a"/>
<rect x="1166.15" y="1837.80" width="14.70" height="4.60" fill="#0c0a0a"/>
<rect x="1158.80" y="1872.30" width="29.40" height="219.70" fill="#0c0a0a"/>
<rect x="1165.90" y="1879.40" width="15.20" height="212.60" fill="#ffffff"/>
<rect x="1215.45" y="1856.40" width="4.70" height="29.20" fill="#0c0a0a"/>
<rect x="1210.45" y="1854.10" width="14.70" height="4.60" fill="#0c0a0a"/>
<rect x="1203.10" y="1884.60" width="29.40" height="207.40" fill="#0c0a0a"/>
<rect x="1210.20" y="1891.70" width="15.20" height="200.30" fill="#9e999b"/>
<rect x="1259.95" y="1853.30" width="4.70" height="32.30" fill="#0c0a0a"/>
<rect x="1254.95" y="1851.00" width="14.70" height="4.60" fill="#0c0a0a"/>
<rect x="1247.60" y="1884.60" width="29.40" height="207.40" fill="#0c0a0a"/>
<rect x="1141.25" y="1792.45" width="4.70" height="301.90" fill="#0c0a0a"/>
<rect x="1122.40" y="1792.55" width="21.20" height="4.70" fill="#0c0a0a"/>
<text x="1113.33" y="1804.44" font-size="31.5" text-anchor="end">40</text>
<rect x="1122.40" y="1866.85" width="21.20" height="4.70" fill="#0c0a0a"/>
<text x="1113.33" y="1878.34" font-size="31.5" text-anchor="end">30</text>
<rect x="1122.40" y="1941.15" width="21.20" height="4.70" fill="#0c0a0a"/>
<text x="1113.33" y="1954.14" font-size="31.5" text-anchor="end">20</text>
<rect x="1122.40" y="2015.35" width="21.20" height="4.70" fill="#0c0a0a"/>
<text x="1113.33" y="2029.34" font-size="31.5" text-anchor="end">10</text>
<rect x="1122.40" y="2089.65" width="21.20" height="4.70" fill="#0c0a0a"/>
<text x="1113.93" y="2103.24" font-size="31.5" text-anchor="end">0</text>
<rect x="1122.40" y="2089.65" width="172.60" height="4.70" fill="#0c0a0a"/>
<text x="1015.25" y="1641.00" font-size="64" text-anchor="start">P</text>
<text x="1065.40" y="2099.69" font-size="31.5" text-anchor="start" transform="rotate(-90 1065.40 2099.69)" textLength="429.35" lengthAdjust="spacing">Quantal content (EPP / mEPP)</text>
<rect x="1118.40" y="1614.60" width="32.20" height="28.30" fill="#1f1b1c"/>
<rect x="1121.80" y="1618.00" width="25.40" height="21.50" fill="#ffffff"/>
<rect x="1118.40" y="1649.10" width="32.20" height="28.30" fill="#1f1b1c"/>
<rect x="1121.80" y="1652.50" width="25.40" height="21.50" fill="#a8a4a6"/>
<rect x="1118.40" y="1718.10" width="32.20" height="28.30" fill="#1f1b1c"/>
<text x="1157.12" y="1636.00" font-size="27.8" text-anchor="start" textLength="84.34" lengthAdjust="spacing">control</text>
<text x="1155.32" y="1671.30" font-size="27.8" text-anchor="start" textLength="56.25" lengthAdjust="spacing">Lrp5</text>
<text transform="translate(1211.70 1661.40) scale(1.37 1)" font-size="19.2" font-family="Liberation Serif, serif">Δ/Δ</text>
<text x="1154.96" y="1705.80" font-size="27.8" text-anchor="start" textLength="128.77" lengthAdjust="spacing">::HSA-Cre</text>
<text x="1155.32" y="1741.80" font-size="27.8" text-anchor="start" textLength="56.30" lengthAdjust="spacing">Lrp6</text>
<text transform="translate(1211.70 1731.90) scale(1.37 1)" font-size="19.2" font-family="Liberation Serif, serif">Δ/Δ</text>
<text x="1154.96" y="1776.30" font-size="27.8" text-anchor="start" textLength="128.27" lengthAdjust="spacing">::HSA-Cre</text>
</svg>
</body></html>
